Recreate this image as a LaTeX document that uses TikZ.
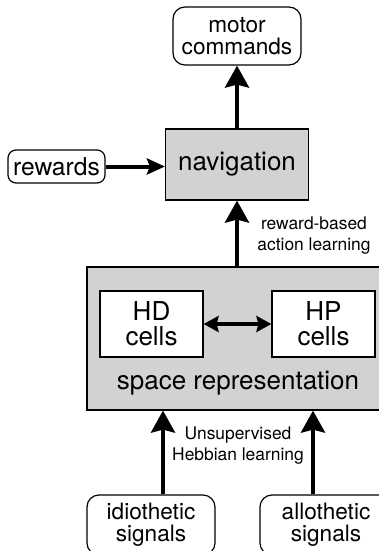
\documentclass[tikz,border=0pt]{standalone}
\usepackage{fontspec}
\setmainfont{TeX Gyre Heros}
\usetikzlibrary{arrows.meta}
\definecolor{panelgray}{RGB}{209,210,212}

\begin{document}
\begin{tikzpicture}[x=0.5pt, y=-0.5pt, >={Stealth[length=11pt, width=12pt, inset=1.5pt]},
	io/.style={draw, line width=0.6pt, rounded corners=6pt, align=center, inner sep=0pt, font=\fontsize{11.3}{11}\selectfont},
	stage/.style={draw, line width=0.6pt, fill=panelgray, inner sep=0pt},
	cellbox/.style={draw, line width=0.6pt, fill=white, align=center, inner sep=0pt, minimum width=51.5pt, minimum height=33pt, font=\fontsize{13}{12.5}\selectfont},
	flow/.style={->, line width=2pt},
	note/.style={align=center, font=\fontsize{8.7}{10.5}\selectfont}]
	\useasboundingbox (0,0) rectangle (379,551);
	\node[io, minimum width=64pt, minimum height=29pt] (motor) at (237,36) {motor\\commands};
	\node[stage, minimum width=71.5pt, minimum height=35.5pt, font=\fontsize{13}{12.5}\selectfont] (nav) at (237,164.5) {navigation};
	\node[io, rounded corners=4pt, minimum width=48.5pt, minimum height=16.5pt, font=\fontsize{12.3}{12}\selectfont] (rewards) at (56.5,166.5) {rewards};
	\node[stage, minimum width=154pt, minimum height=71.5pt] (space) at (241,338.5) {};
	\node[cellbox] (hd) at (151.5,324) {HD\\cells};
	\node[cellbox] (hp) at (323.5,324) {HP\\cells};
	\node[font=\fontsize{13}{12.5}\selectfont] (spacelbl) at (238,383) {space representation};
	\node[io, minimum width=64pt, minimum height=30pt] (idio) at (151,525) {idiothetic\\signals};
	\node[io, minimum width=66pt, minimum height=30pt] (allo) at (326,525) {allothetic\\signals};
	\node[note] (rbl) at (314,236) {reward-based\\action learning};
	\node[note] (hebb) at (238,446) {Unsupervised\\Hebbian learning};
	% connectors
	\draw[flow] (nav) -- (motor);
	\draw[flow, -{Stealth[length=9pt, width=8pt, inset=1.5pt]}] (rewards.east) -- (rewards.east -| nav.west);
	\draw[flow] (space.north -| nav) -- (nav.south);
	\draw[{Stealth[length=7.5pt, width=8pt, inset=1pt]}-{Stealth[length=7.5pt, width=8pt, inset=1pt]}, line width=1.75pt] (hd) -- (hp);
	\draw[flow] ([xshift=6pt]idio.north) -- ([xshift=6pt]idio.north |- space.south);
	\draw[flow] ([xshift=-6.5pt]allo.north) -- ([xshift=-6.5pt]allo.north |- space.south);
\end{tikzpicture}
\end{document}
